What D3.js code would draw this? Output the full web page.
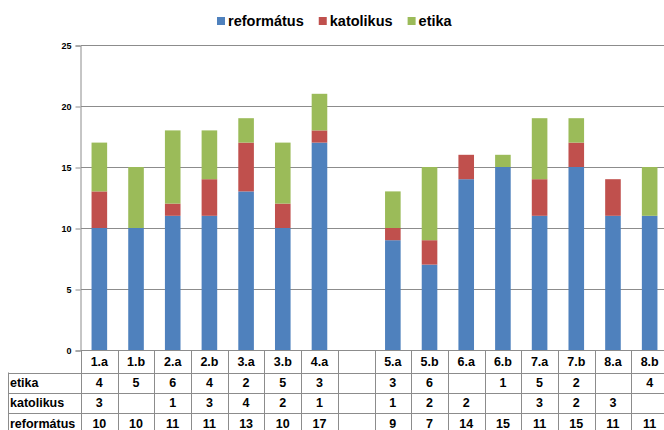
<!DOCTYPE html>
<html>
<head>
<meta charset="utf-8">
<script src="https://cdn.jsdelivr.net/npm/d3@7"></script>
<style>
  body { margin: 0; background: white; }
  text { font-family: "Liberation Sans", Arial, sans-serif; font-weight: bold; fill: #000; }
</style>
</head>
<body>
<div id="container"></div>
<script>
/* DATA */
const categories = ["1.a", "1.b", "2.a", "2.b", "3.a", "3.b", "4.a", "", "5.a", "5.b", "6.a", "6.b", "7.a", "7.b", "8.a", "8.b"];
const reformatus = [10, 10, 11, 11, 13, 10, 17, null, 9, 7, 14, 15, 11, 15, 11, 11];
const katolikus = [3, null, 1, 3, 4, 2, 1, null, 1, 2, 2, null, 3, 2, 3, null];
const etika = [4, 5, 6, 4, 2, 5, 3, null, 3, 6, null, 1, 5, 2, null, 4];
const seriesNames = ["református", "katolikus", "etika"];
const yTicks = [0, 5, 10, 15, 20, 25];

/* CONSTANTS */
const width = 664, height = 430;
const plot = { left: 81, right: 668, top: 45, bottom: 350 };
const colors = ["#4F81BD", "#C0504D", "#9BBB59"];
const gridColor = "#8c8c8c";

const rows = categories.map((c, i) => ({
  cat: c,
  "református": reformatus[i] || 0,
  "katolikus": katolikus[i] || 0,
  "etika": etika[i] || 0
}));
const stacked = d3.stack().keys(seriesNames)(rows);

/* SCALES */
const xScale = d3.scaleBand()
  .domain(categories)
  .range([plot.left, plot.right])
  .paddingInner(0.575)
  .paddingOuter(0.2875);

const colScale = d3.scaleBand()
  .domain(categories)
  .range([plot.left, plot.right]);

const yScale = d3.scaleLinear()
  .domain([0, 25])
  .range([plot.bottom, plot.top]);

const color = d3.scaleOrdinal().domain(seriesNames).range(colors);

const svg = d3.select("#container")
  .append("svg")
  .attr("width", width)
  .attr("height", height);

// gridlines
svg.append("g")
  .selectAll("line")
  .data(yTicks)
  .enter()
  .append("line")
  .attr("x1", plot.left)
  .attr("x2", width)
  .attr("y1", d => yScale(d) + 0.5)
  .attr("y2", d => yScale(d) + 0.5)
  .attr("stroke", gridColor)
  .attr("stroke-width", 1);

// y axis
const yAxis = d3.axisLeft(yScale).tickValues(yTicks).tickSize(5).tickPadding(4);
const yg = svg.append("g")
  .attr("transform", `translate(${plot.left - 0.5},0.5)`)
  .call(yAxis);
yg.select(".domain").attr("stroke", gridColor);
yg.selectAll(".tick line").attr("stroke", gridColor);
yg.selectAll(".tick text")
  .style("font-size", "9px")
  .style("font-family", "'Liberation Sans', Arial, sans-serif")
  .style("font-weight", "bold")
  .attr("fill", "#000");

// bars
svg.append("g")
  .selectAll("g")
  .data(stacked)
  .enter()
  .append("g")
  .attr("fill", d => color(d.key))
  .selectAll("rect")
  .data(d => d)
  .enter()
  .append("rect")
  .attr("x", d => xScale(d.data.cat))
  .attr("width", xScale.bandwidth())
  .attr("y", d => yScale(d[1]))
  .attr("height", d => yScale(d[0]) - yScale(d[1]));

// legend
const legend = svg.append("g");
let lx = 217;
seriesNames.forEach((name, i) => {
  legend.append("rect")
    .attr("x", lx)
    .attr("y", 17)
    .attr("width", 8)
    .attr("height", 8)
    .attr("fill", colors[i]);
  const t = legend.append("text")
    .attr("x", lx + 11)
    .attr("y", 26)
    .style("font-size", "14.5px")
    .text(name);
  lx += 11 + t.node().getComputedTextLength() + 15;
});

/* DATA TABLE */
const rowY = [350, 372.5, 393, 413, 434];
const tableRows = [
  { label: "etika", values: etika },
  { label: "katolikus", values: katolikus },
  { label: "református", values: reformatus }
];
const table = svg.append("g");

// horizontal lines
table.selectAll(".hline")
  .data(rowY.slice(1, 4))
  .enter()
  .append("line")
  .attr("x1", 8)
  .attr("x2", width)
  .attr("y1", d => Math.round(d) + 0.5)
  .attr("y2", d => Math.round(d) + 0.5)
  .attr("stroke", gridColor);

// vertical lines
const colEdges = categories.map(c => colScale(c)).concat([plot.right]);
table.selectAll(".vline")
  .data(colEdges)
  .enter()
  .append("line")
  .attr("x1", d => Math.round(d) + 0.5)
  .attr("x2", d => Math.round(d) + 0.5)
  .attr("y1", plot.bottom)
  .attr("y2", height)
  .attr("stroke", gridColor);
table.append("line")
  .attr("x1", 8.5).attr("x2", 8.5)
  .attr("y1", rowY[1]).attr("y2", height)
  .attr("stroke", gridColor);

// header labels
table.selectAll(".head")
  .data(categories)
  .enter()
  .append("text")
  .attr("x", d => colScale(d) + colScale.bandwidth() / 2)
  .attr("y", (rowY[0] + rowY[1]) / 2 + 1)
  .attr("text-anchor", "middle")
  .attr("dominant-baseline", "middle")
  .style("font-size", "12.5px")
  .text(d => d);

tableRows.forEach((r, ri) => {
  const cy = (rowY[ri + 1] + rowY[ri + 2]) / 2 + 1;
  table.append("text")
    .attr("x", 10)
    .attr("y", cy)
    .attr("dominant-baseline", "middle")
    .style("font-size", "12.5px")
    .text(r.label);
  table.selectAll(null)
    .data(categories)
    .enter()
    .append("text")
    .attr("x", d => colScale(d) + colScale.bandwidth() / 2)
    .attr("y", cy)
    .attr("text-anchor", "middle")
    .attr("dominant-baseline", "middle")
    .style("font-size", "12.5px")
    .text((d, i) => r.values[i] == null ? "" : r.values[i]);
});
</script>
</body>
</html>
